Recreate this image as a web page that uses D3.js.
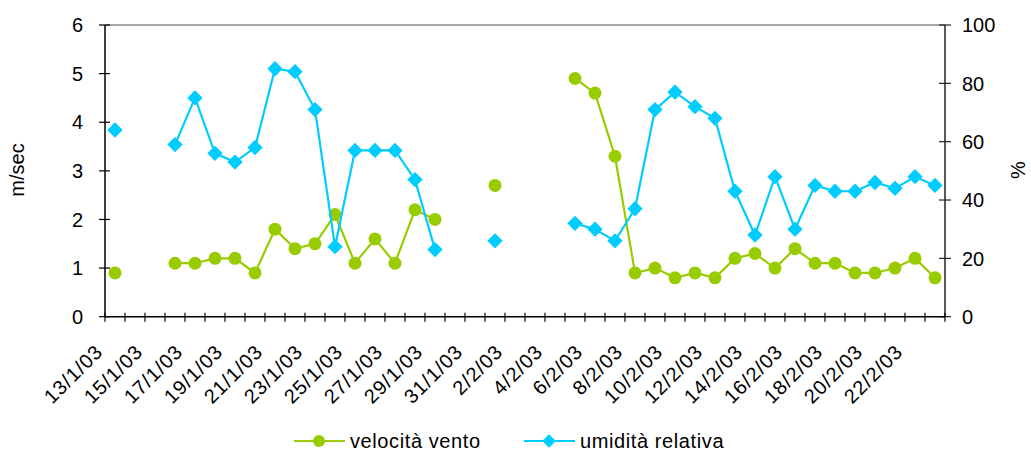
<!DOCTYPE html>
<html>
<head>
<meta charset="utf-8">
<script src="https://cdn.jsdelivr.net/npm/d3@7"></script>
<style>
  html, body { margin: 0; padding: 0; background: #fff; }
  svg { display: block; font-family: "Liberation Sans", Arial, sans-serif; }
</style>
</head>
<body>
<svg id="chart" width="1031" height="454"></svg>
<script>
// Daily dates, 13 Jan – 23 Feb 2003
const dates = [
  "13/1/03","14/1/03","15/1/03","16/1/03","17/1/03","18/1/03","19/1/03","20/1/03",
  "21/1/03","22/1/03","23/1/03","24/1/03","25/1/03","26/1/03","27/1/03","28/1/03",
  "29/1/03","30/1/03","31/1/03","1/2/03","2/2/03","3/2/03","4/2/03","5/2/03",
  "6/2/03","7/2/03","8/2/03","9/2/03","10/2/03","11/2/03","12/2/03","13/2/03",
  "14/2/03","15/2/03","16/2/03","17/2/03","18/2/03","19/2/03","20/2/03","21/2/03",
  "22/2/03","23/2/03"
];

// Wind speed (m/sec); null = no measurement
const windSpeed = [
  0.9, null, null, 1.1, 1.1, 1.2, 1.2, 0.9,
  1.8, 1.4, 1.5, 2.1, 1.1, 1.6, 1.1, 2.2,
  2.0, null, null, 2.7, null, null, null, 4.9,
  4.6, 3.3, 0.9, 1.0, 0.8, 0.9, 0.8, 1.2,
  1.3, 1.0, 1.4, 1.1, 1.1, 0.9, 0.9, 1.0,
  1.2, 0.8
];

// Relative humidity (%); null = no measurement
const humidity = [
  64, null, null, 59, 75, 56, 53, 58,
  85, 84, 71, 24, 57, 57, 57, 47,
  23, null, null, 26, null, null, null, 32,
  30, 26, 37, 71, 77, 72, 68, 43,
  28, 48, 30, 45, 43, 43, 46, 44,
  48, 45
];

const leftTicks = [0, 1, 2, 3, 4, 5, 6];
const rightTicks = [0, 20, 40, 60, 80, 100];

const seriesNames = ["velocità vento", "umidità relativa"];
const seriesColors = ["#99CC00", "#00CCFF"];

const svg = d3.select("#chart");
const plot = { left: 105, right: 945, top: 25, bottom: 316.7 };

const x = d3.scaleBand().domain(dates).range([plot.left, plot.right]).padding(0);
const yL = d3.scaleLinear().domain([0, 6]).range([plot.bottom, plot.top]);
const yR = d3.scaleLinear().domain([0, 100]).range([plot.bottom, plot.top]);
const cx = d => x(d) + x.bandwidth() / 2;

// plot-area frame (top edge visible in grey)
svg.append("line")
  .attr("x1", plot.left).attr("x2", plot.right)
  .attr("y1", plot.top).attr("y2", plot.top)
  .attr("stroke", "#8c8c8c").attr("stroke-width", 1.5);

// left axis
const gL = svg.append("g").attr("transform", `translate(${plot.left},0)`);
gL.append("line").attr("y1", plot.top).attr("y2", plot.bottom)
  .attr("stroke", "#000").attr("stroke-width", 1.5);
gL.selectAll("line.t").data(leftTicks).join("line").attr("class", "t")
  .attr("x1", -6).attr("x2", 5)
  .attr("y1", d => yL(d)).attr("y2", d => yL(d))
  .attr("stroke", "#000").attr("stroke-width", 1.2);
gL.selectAll("text").data(leftTicks).join("text")
  .attr("x", -22).attr("y", d => yL(d)).attr("dy", "0.36em")
  .attr("text-anchor", "end").attr("font-size", 20).text(d => d);

// right axis
const gR = svg.append("g").attr("transform", `translate(${plot.right},0)`);
gR.append("line").attr("y1", plot.top).attr("y2", plot.bottom)
  .attr("stroke", "#222").attr("stroke-width", 1.5);
gR.selectAll("line.t").data(rightTicks).join("line").attr("class", "t")
  .attr("x1", -6).attr("x2", 6)
  .attr("y1", d => yR(d)).attr("y2", d => yR(d))
  .attr("stroke", "#222").attr("stroke-width", 1.2);
gR.selectAll("text").data(rightTicks).join("text")
  .attr("x", 17).attr("y", d => yR(d)).attr("dy", "0.36em")
  .attr("text-anchor", "start").attr("font-size", 20).text(d => d);

// bottom axis with category tick marks
const gB = svg.append("g");
gB.append("line").attr("x1", plot.left).attr("x2", plot.right)
  .attr("y1", plot.bottom).attr("y2", plot.bottom)
  .attr("stroke", "#000").attr("stroke-width", 1.5);
const bounds = dates.map(d => x(d)).concat([plot.right]);
gB.selectAll("line.t").data(bounds).join("line").attr("class", "t")
  .attr("x1", d => d).attr("x2", d => d)
  .attr("y1", plot.bottom - 4).attr("y2", plot.bottom + 5)
  .attr("stroke", "#000").attr("stroke-width", 1.2);
gB.selectAll("text").data(dates.filter((d, i) => i % 2 === 0)).join("text")
  .attr("transform", d => `translate(${cx(d) - 11},353) rotate(-45)`)
  .attr("text-anchor", "end").attr("font-size", 20).attr("letter-spacing", 0.9)
  .text(d => d);

// axis titles
svg.append("text").attr("transform", "translate(24,170) rotate(-90)")
  .attr("text-anchor", "middle").attr("font-size", 20).text("m/sec");
svg.append("text").attr("transform", "translate(1025,170) rotate(-90)")
  .attr("text-anchor", "middle").attr("font-size", 20).text("%");

// series
const diamond = d3.symbol().type(d3.symbolDiamond2).size(150);

function drawSeries(values, yScale, color, marker) {
  const pts = dates.map((d, i) => ({ d, v: values[i] }));
  const line = d3.line().defined(p => p.v !== null)
    .x(p => cx(p.d)).y(p => yScale(p.v));
  svg.append("path").datum(pts).attr("d", line)
    .attr("fill", "none").attr("stroke", color).attr("stroke-width", 2.2);
  const valid = pts.filter(p => p.v !== null);
  if (marker === "circle") {
    svg.append("g").selectAll("circle").data(valid).join("circle")
      .attr("cx", p => cx(p.d)).attr("cy", p => yScale(p.v)).attr("r", 6.5)
      .attr("fill", color);
  } else {
    svg.append("g").selectAll("path").data(valid).join("path")
      .attr("d", diamond)
      .attr("transform", p => `translate(${cx(p.d)},${yScale(p.v)})`)
      .attr("fill", color);
  }
}

drawSeries(windSpeed, yL, seriesColors[0], "circle");
drawSeries(humidity, yR, seriesColors[1], "diamond");

// legend
const legend = svg.append("g");
const legendItems = [
  { name: seriesNames[0], color: seriesColors[0], x: 294, marker: "circle" },
  { name: seriesNames[1], color: seriesColors[1], x: 524, marker: "diamond" }
];
legendItems.forEach(it => {
  const ly = 441;
  legend.append("line").attr("x1", it.x).attr("x2", it.x + 51)
    .attr("y1", ly).attr("y2", ly).attr("stroke", it.color).attr("stroke-width", 2.2);
  if (it.marker === "circle") {
    legend.append("circle").attr("cx", it.x + 25).attr("cy", ly).attr("r", 6).attr("fill", it.color);
  } else {
    legend.append("path").attr("d", d3.symbol().type(d3.symbolDiamond2).size(120))
      .attr("transform", `translate(${it.x + 25},${ly})`).attr("fill", it.color);
  }
  legend.append("text").attr("x", it.x + 56).attr("y", ly).attr("dy", "0.36em")
    .attr("font-size", 20).attr("letter-spacing", 0.6).text(it.name);
});
</script>
</body>
</html>
